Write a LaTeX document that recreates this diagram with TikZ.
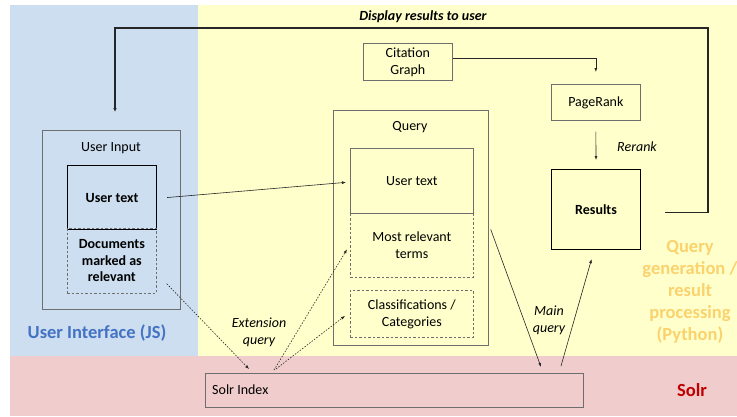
\documentclass[tikz,border=0pt]{standalone}
\usepackage{fontspec}
\setmainfont{Carlito}
\usetikzlibrary{arrows.meta}
\definecolor{bgblue}{RGB}{204,222,239}
\definecolor{bgyellow}{RGB}{255,255,204}
\definecolor{bgpink}{RGB}{240,204,204}
\definecolor{uiblue}{RGB}{68,114,196}
\definecolor{pyorange}{RGB}{250,210,110}
\definecolor{solrred}{RGB}{192,0,0}
\definecolor{boxgray}{RGB}{110,110,110}
\begin{document}
\begin{tikzpicture}[x=1pt,y=-1pt,
  base/.style={inner sep=0pt, anchor=north west, font=\fontsize{14}{17}\selectfont, align=center},
  thinbox/.style={base, draw=boxgray, line width=0.7pt},
  thickbox/.style={base, draw=black, line width=1.1pt, font=\fontsize{14}{17}\selectfont\bfseries},
  dashbox/.style={base, draw=boxgray, dashed, line width=0.7pt, dash pattern=on 2.5pt off 2pt},
  conn/.style={line width=0.6pt, draw=black!85, -{Latex[length=4pt,width=3pt]}},
  dconn/.style={conn, dash pattern=on 1.5pt off 1.5pt},
  lbl/.style={font=\fontsize{14}{17}\selectfont\itshape, align=center, inner sep=0pt},
  big/.style={font=\fontsize{18.5}{22}\selectfont\bfseries, align=center, inner sep=0pt}
]
\useasboundingbox (0,0) rectangle (737,416);
% backgrounds
\fill[white] (0,0) rectangle (737,416);
\fill[bgblue] (10,5) rectangle (198,356);
\fill[bgyellow] (198,5) rectangle (737,356);
\fill[bgpink] (10,356) rectangle (737,416);

% user input
\node[thinbox, minimum width=138, minimum height=179] (ui) at (42,130) {};
\node[lbl, font=\fontsize{14}{17}\selectfont] (uititle) at (111,148) {User Input};
\node[thickbox, minimum width=89, minimum height=64] (ut) at (67,165) {User text};
\node[dashbox, minimum width=89, minimum height=65, font=\fontsize{14}{16.5}\selectfont\bfseries] (docs) at (67,228) {Documents\\marked as\\relevant};

% query
\node[thinbox, minimum width=155, minimum height=235] (query) at (333,110) {};
\node[lbl, font=\fontsize{14}{17}\selectfont] (qtitle) at (410,127) {Query};
\node[thinbox, minimum width=123, minimum height=65] (qut) at (350,148) {User text};
\node[dashbox, minimum width=123, minimum height=64] (mrt) at (350,213) {Most relevant\\terms};
\node[dashbox, minimum width=123, minimum height=47] (cls) at (350,290) {Classifications /\\Categories};

% right column
\node[thinbox, minimum width=89, minimum height=37] (cg) at (363,43) {Citation\\Graph};
\node[thinbox, minimum width=89, minimum height=36] (pr) at (551,84) {PageRank};
\node[thickbox, minimum width=89, minimum height=80] (res) at (551,169) {Results};

% solr
\node[thinbox, minimum width=378, minimum height=34] (solr) at (205,373) {};
\node[lbl, font=\fontsize{14}{17}\selectfont, anchor=west] (solrlbl) at (212,390) {Solr Index};

% region labels
\node[big, text=uiblue] (uilbl) at (97,333) {User Interface (JS)};
\node[big, text=pyorange] (pylbl) at (690,292) {Query\\generation /\\result\\processing\\(Python)};
\node[big, text=solrred] (solrname) at (692,390) {Solr};

% loop connector
\coordinate (loopR) at (708,28);
\coordinate (loopL) at (115,28);
\coordinate (loopEnd) at (115,112);
\draw[conn, line width=1.1pt, -{Latex[length=4pt,width=3.5pt]}] ([xshift=24,yshift=-3]res.east) -| (loopR) -- (loopL) -- (loopEnd);
\node[lbl, font=\fontsize{14}{17}\selectfont\bfseries\itshape] (disp) at (423,17) {Display results to user};

% connectors
\draw[conn] ([yshift=4]cg.east) -| ([yshift=12]pr.north);
\draw[conn] ([yshift=-11]pr.south) -- ([yshift=9]res.north);
\node[lbl] (rerank) at (637,147) {Rerank};
\draw[conn] ([xshift=10]ut.east) -- ([xshift=-4,yshift=-1.5]qut.west);
\draw[dconn] ([xshift=10,yshift=10]docs.south east) -- ([xshift=44,yshift=4]solr.north west);
\draw[dconn] ([xshift=69,yshift=3]solr.north west) -- ([xshift=-3,yshift=-4]mrt.west);
\draw[dconn] ([xshift=71,yshift=4]solr.north west) -- ([xshift=-5,yshift=-2]cls.west);
\node[lbl] (ext) at (259,332) {Extension\\query};
\draw[conn] ([xshift=2,yshift=-1.5]query.east) -- ([xshift=336,yshift=6]solr.north west);
\draw[conn] ([xshift=356,yshift=7]solr.north west) -- ([xshift=-4.5,yshift=-9]res.south);
\node[lbl] (mainq) at (549,320) {Main\\query};
\end{tikzpicture}
\end{document}
